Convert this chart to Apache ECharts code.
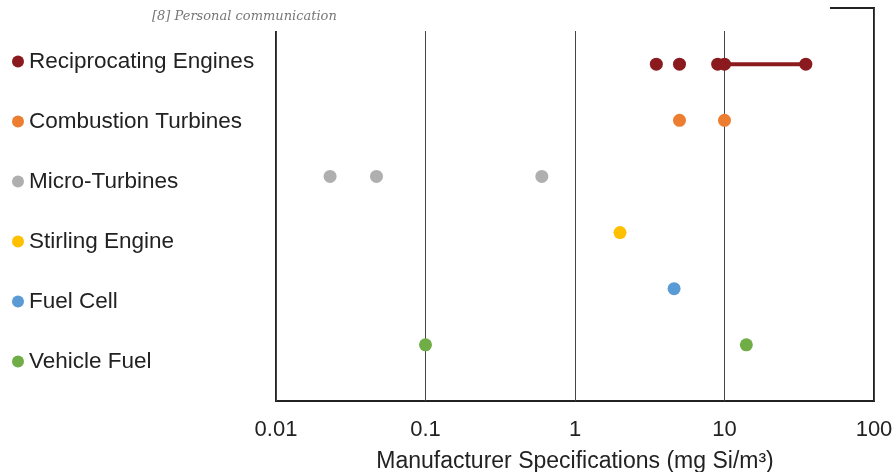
<!DOCTYPE html>
<html>
<head>
<meta charset="utf-8">
<script src="https://cdn.jsdelivr.net/npm/echarts@6/dist/echarts.min.js"></script>
<style>
  html, body { margin: 0; padding: 0; background: #fff; }
  #chart { width: 896px; height: 472px; }
</style>
</head>
<body>
<div id="chart"></div>
<script>
var chart = echarts.init(document.getElementById('chart'));

// rows, top to bottom
var categories = ['Reciprocating Engines', 'Combustion Turbines', 'Micro-Turbines',
                  'Stirling Engine', 'Fuel Cell', 'Vehicle Fuel'];
var colors = ['#8b1a1e', '#ed7d31', '#afafaf', '#ffc000', '#5b9bd5', '#70ad47'];

// manufacturer specifications, mg Si/m3
var values = [
    [3.5, 5, 9, 10, 35],
    [5, 10],
    [0.023, 0.047, 0.6],
    [2],
    [4.6],
    [0.1, 14]
];
// range bar drawn for reciprocating engines
var recipRange = [10, 35];

var tickLabels = ['0.01', '0.1', '1', '10', '100'];

var series = categories.map(function (name, i) {
    return {
        name: name,
        type: 'scatter',
        symbol: 'circle',
        symbolSize: 13,
        itemStyle: { color: colors[i], opacity: 1 },
        z: 4,
        data: values[i].map(function (v) { return [v, i]; })
    };
});
series.unshift({
    name: 'range',
    type: 'line',
    symbol: 'none',
    lineStyle: { color: colors[0], width: 4 },
    z: 3,
    data: recipRange.map(function (v) { return [v, 0]; })
});

var option = {
    backgroundColor: '#fff',
    animation: false,
    textStyle: { fontFamily: 'Liberation Sans, Arial, sans-serif' },
    grid: {
        left: 276,
        right: 22,
        top: 8,
        bottom: 71,
        outerBoundsMode: 'none',
        containLabel: false,
        show: true,
        borderColor: '#222',
        borderWidth: 2
    },
    legend: {
        data: categories,
        orient: 'vertical',
        left: 7,
        top: 45,
        icon: 'circle',
        itemWidth: 12,
        itemHeight: 12,
        itemGap: 37,
        selectedMode: false,
        textStyle: { fontSize: 22.5, color: '#222' }
    },
    xAxis: {
        type: 'log',
        logBase: 10,
        min: 0.01,
        max: 100,
        name: 'Manufacturer Specifications (mg Si/m\u00b3)',
        nameLocation: 'middle',
        nameGap: 49,
        nameTextStyle: { fontSize: 23, color: '#222' },
        axisLine: { show: false },
        axisTick: { show: false },
        axisLabel: {
            fontSize: 22,
            color: '#222',
            margin: 18,
            formatter: function (v) {
                var i = Math.round(Math.log10(v)) + 2;
                return tickLabels[i] !== undefined ? tickLabels[i] : '';
            }
        },
        splitLine: { show: true, lineStyle: { color: '#444', width: 1 } },
        minorSplitLine: { show: false }
    },
    yAxis: {
        type: 'value',
        min: -1,
        max: 6,
        inverse: true,
        show: false,
        splitLine: { show: false }
    },
    graphic: [
        {
            type: 'rect',
            shape: { x: 0, y: 0, width: 830, height: 31 },
            style: { fill: '#fff' },
            z: 100
        },
        {
            type: 'text',
            left: 152,
            top: 10,
            z: 101,
            style: {
                text: '[8] Personal communication',
                fill: '#777',
                font: 'italic 13px "DejaVu Serif", "Liberation Serif", serif'
            }
        }
    ],
    series: series
};

chart.setOption(option);
</script>
</body>
</html>
